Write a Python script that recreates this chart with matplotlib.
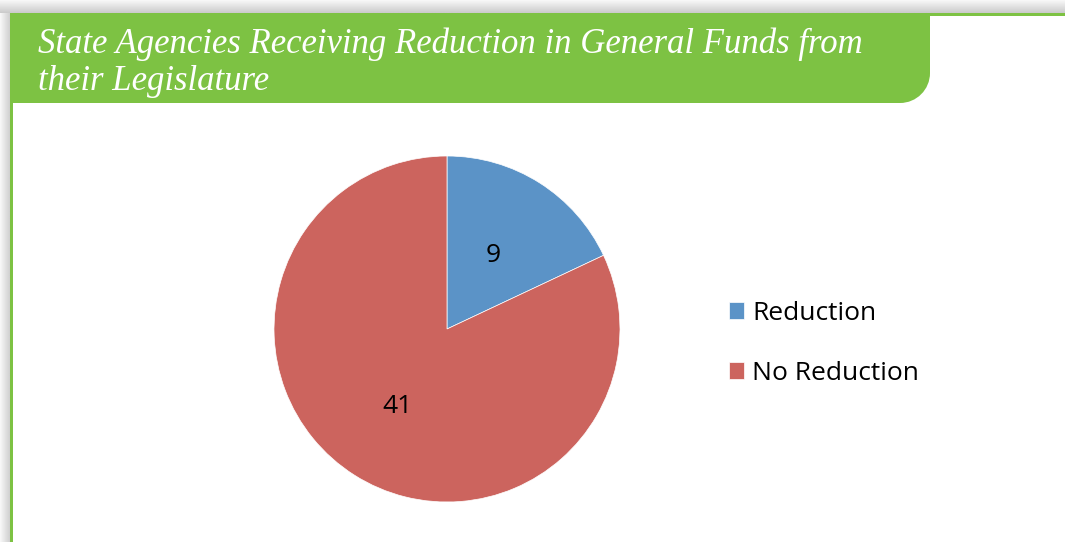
import numpy as np
import matplotlib
matplotlib.use("Agg")
import matplotlib.pyplot as plt
from matplotlib.path import Path
from matplotlib.patches import PathPatch, Rectangle

# chart data
labels = ["Reduction", "No Reduction"]
counts = [9, 41]
colors = ["#5B93C7", "#CC645E"]
title_lines = ["State Agencies Receiving Reduction in General Funds from",
               "their Legislature"]

W, H = 1065, 542
green = "#7DC243"

fig = plt.figure(figsize=(W / 100, H / 100), dpi=100)

# background layer in pixel coordinates
bg = fig.add_axes([0, 0, 1, 1])
bg.axis("off")

# soft shadows along the top and left edge
top_grad = np.linspace(0.97, 0.80, 13).reshape(-1, 1) * np.ones((1, 10))
bg.imshow(top_grad, extent=(0, W, 13, 0), cmap="gray", vmin=0, vmax=1,
          aspect="auto", interpolation="bilinear")
left_grad = np.ones((10, 1)) * np.linspace(0.97, 0.82, 10).reshape(1, -1)
bg.imshow(left_grad, extent=(0, 10, H, 13), cmap="gray", vmin=0, vmax=1,
          aspect="auto", interpolation="bilinear")
bg.set_xlim(0, W)
bg.set_ylim(H, 0)

# green header with rounded lower right corner
x0, x1, y0, y1, r = 10, 930, 13, 103, 30
k = 0.5523 * r
verts = [(x0, y0), (x1, y0), (x1, y1 - r),
         (x1, y1 - r + k), (x1 - r + k, y1), (x1 - r, y1),
         (x0, y1), (x0, y0)]
codes = [Path.MOVETO, Path.LINETO, Path.LINETO,
         Path.CURVE4, Path.CURVE4, Path.CURVE4,
         Path.LINETO, Path.CLOSEPOLY]
bg.add_patch(PathPatch(Path(verts, codes), facecolor=green, edgecolor="none"))
bg.add_patch(Rectangle((x1 - 5, 13), W - x1 + 5, 2.5, facecolor=green, edgecolor="none"))
bg.add_patch(Rectangle((10, 13), 2.5, H - 13, facecolor=green, edgecolor="none"))

for line, base in zip(title_lines, [53, 90]):
    bg.text(38, base, line, color="white", fontsize=25, style="italic",
            family="Liberation Serif", va="baseline")

# pie, clockwise from twelve o'clock
cx, cy, rad = 447, 329, 173
ax = fig.add_axes([(cx - rad) / W, (H - cy - rad) / H, 2 * rad / W, 2 * rad / H])
wedges, texts = ax.pie(counts, colors=colors, startangle=90, counterclock=False,
                       wedgeprops=dict(edgecolor="white", linewidth=0.5))
ax.set_xlim(-1, 1)
ax.set_ylim(-1, 1)
ax.set_aspect("equal")

for w, n, d in zip(wedges, counts, [0.5, 0.53]):
    ang = np.deg2rad((w.theta1 + w.theta2) / 2)
    ax.text(d * np.cos(ang), d * np.sin(ang), str(n), ha="center", va="center",
            fontsize=19, family="Open Sans", color="black")

fig.legend(wedges, labels, loc="upper left", bbox_to_anchor=(705 / W, 1 - 277 / H),
           frameon=False, prop={"family": "Open Sans", "size": 19},
           handlelength=0.58, handleheight=0.58, handletextpad=0.32, labelspacing=1.33)

fig.savefig("out.png", dpi=100)
